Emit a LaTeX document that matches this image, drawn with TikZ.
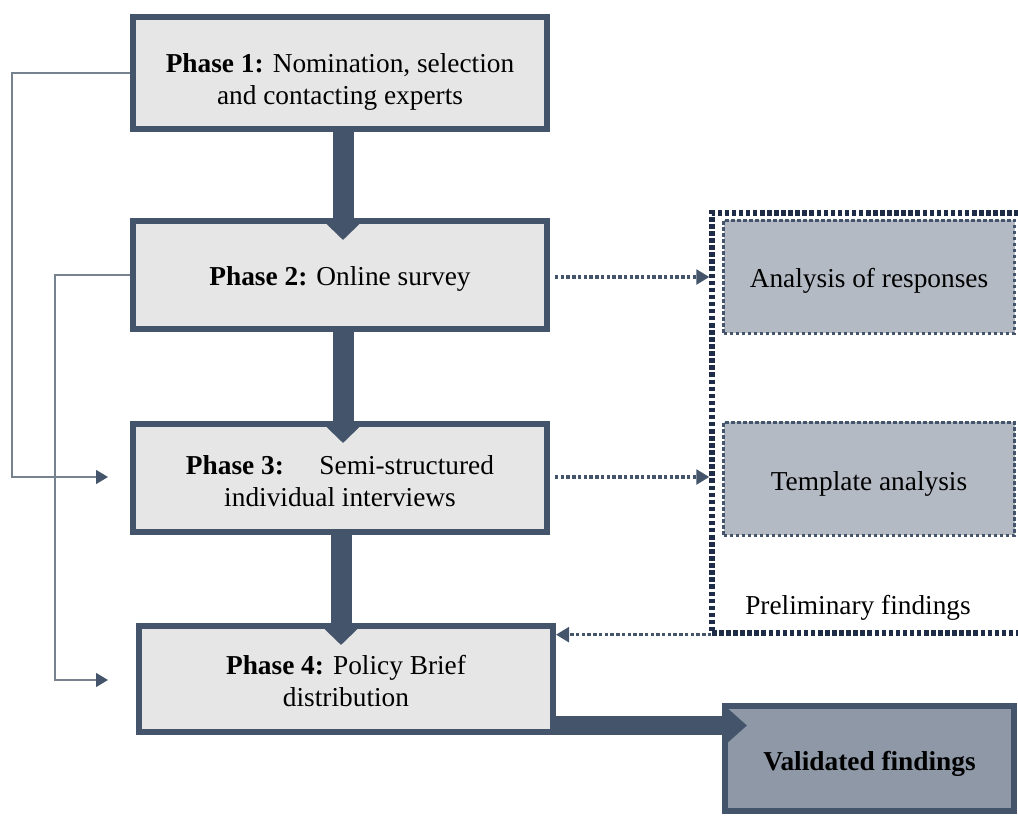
\documentclass[tikz,border=0pt]{standalone}
\usepackage{fontspec}
\setmainfont{Liberation Serif}
\usetikzlibrary{arrows.meta,calc}
\definecolor{slate}{HTML}{44546A}
\definecolor{boxfill}{HTML}{E6E6E6}
\definecolor{anafill}{HTML}{B4BAC4}
\definecolor{valfill}{HTML}{8E98A7}
\definecolor{navy}{HTML}{1F2C47}
\definecolor{thinline}{HTML}{76838F}
\newcommand\lowtext[2]{\raisebox{-#1}[\height][\depth]{\begin{tabular}{@{}c@{}}#2\end{tabular}}}
\begin{document}
\begin{tikzpicture}[x=0.75pt,y=-0.75pt,
  font=\fontsize{20.5}{24}\selectfont,
  phase/.style={draw=slate, line width=4.5pt, fill=boxfill, align=center,
    inner sep=0pt, minimum width=310.5pt, minimum height=81pt},
  anabox/.style={draw=slate, line width=2.8pt, dash pattern=on 2.8pt off 1.7pt,
    fill=anafill, align=center, inner sep=0pt, minimum width=218.25pt, minimum height=84.75pt},
  valbox/.style={draw=slate, line width=4.5pt, fill=valfill, align=center,
    inner sep=0pt, minimum width=216.75pt, minimum height=78.75pt, font=\fontsize{20.5}{24}\selectfont\bfseries},
  outerbox/.style={draw=navy, line width=4pt, dash pattern=on 3.4pt off 1.9pt,
    inner sep=0pt, minimum width=238.5pt, minimum height=315pt},
  bigarrow/.style={draw=slate, line width=15.75pt, -{Triangle[length=15pt,width=30pt]}},
  bigharrow/.style={draw=slate, line width=14.5pt, -{Triangle[length=18.75pt,width=32pt]}},
  dotarrow/.style={draw=slate, line width=2.6pt, dash pattern=on 2.6pt off 1.7pt,
    -{Triangle[length=9.75pt,width=11pt]}},
  thinconn/.style={draw=thinline, line width=1.1pt, -{Triangle[length=9pt,width=10.5pt,color=slate]}}
]
\useasboundingbox (0,0) rectangle (1018,816);

% outer dotted region (runs past the right edge)
\node[outerbox] (outer) at (871,423) {};

% phase boxes
\node[phase, minimum height=84pt] (p1) at (340,73) {\lowtext{6.5pt}{\textbf{Phase 1:} Nomination, selection\\and contacting experts}};
\node[phase] (p2) at (340,275) {\lowtext{3pt}{\textbf{Phase 2:} Online survey}};
\node[phase] (p3) at (340,478) {\lowtext{4.5pt}{\textbf{Phase 3:}\hspace{1.3em}Semi-structured\\individual interviews}};
\node[phase, minimum height=79.5pt] (p4) at (346,679) {\lowtext{3.75pt}{\textbf{Phase 4:} Policy Brief\\distribution}};

% analysis boxes
\node[anabox] (ana) at (869,277) {\lowtext{3pt}{Analysis of responses}};
\node[anabox] (tmpl) at (869,479) {\lowtext{3.75pt}{Template analysis}};
\node (prelim) at (858,608) {Preliminary findings};

% validated findings
\node[valbox] (valid) at (869.5,758.5) {\lowtext{4.5pt}{Validated findings}};

% thick arrows
\draw[bigarrow] ($(p1.south)+(3,0)$) -- ($(p2.north)+(3,22)$);
\draw[bigarrow] ($(p2.south)+(3,0)$) -- ($(p3.north)+(3,22)$);
\draw[bigarrow] ($(p3.south)+(1,0)$) -- ($(p4.north)+(-5,22)$);
\coordinate (vtip) at ($(valid.west)+(25,-33)$);
\draw[bigharrow] ($(p4.east |- vtip)+(-3,0)$) -- (vtip);

% dotted arrows
\draw[dotarrow] ($(p2.east)+(5,2)$) -- (outer.west |- {$(p2.east)+(0,2)$});
\draw[dotarrow] ($(p3.east)+(5,-1)$) -- (outer.west |- {$(p3.east)+(0,-1)$});
\coordinate (back) at ($(outer.south west)+(2,-1)$);
\draw[dotarrow] (back) -- (p4.east |- back);

% thin feedback connectors
\coordinate (c1) at (12,73);
\coordinate (c2) at (55,275);
\coordinate (t3) at (108,477);
\coordinate (t4) at (108,680);
\draw[thinconn] (p1.west) -- (c1) |- (t3);
\draw[thinconn] (p2.west) -- (c2) |- (t4);
\end{tikzpicture}
\end{document}
